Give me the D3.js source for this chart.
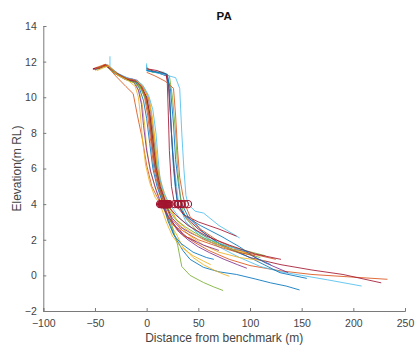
<!DOCTYPE html>
<html><head><meta charset="utf-8">
<script src="https://cdn.jsdelivr.net/npm/d3@7"></script>
<style>
body{margin:0;background:#fff;}
text{font-family:"Liberation Sans",Arial,Helvetica,sans-serif;}
</style></head>
<body><svg id="c" width="416" height="358"></svg>
<script>
const title = "PA";
const xLabel = "Distance from benchmark (m)";
const yLabel = "Elevation(m RL)";
const xTicks = [-100,-50,0,50,100,150,200,250];
const yTicks = [-2,0,2,4,6,8,10,12,14];
const lineColors = ["#0072BD","#D95319","#EDB120","#7E2F8E","#77AC30","#4DBEEE","#A2142F"];

// profiles: [distance (m), elevation (m RL)]
const p0 = [[-51,11.6],[-46,11.6],[-39,11.8],[-28,11.3],[-18,11.0],[-10,10.9],[-5,10.5],[0,10],[3,9],[5,7.5],[8,6],[12,5],[17,4],[22,3],[27,2.2],[35,1.4],[42,0.9],[55,0.45],[70,0.2],[87,0.05],[105,-0.2],[120,-0.42],[135,-0.6],[148,-0.82]];
const p1 = [[-52,11.55],[-45,11.7],[-40,11.85],[-30,11.4],[-20,11.05],[-12,10.9],[-6,10.6],[-2,10],[1,9],[4,7.5],[7,6],[11,5],[16,4],[22,3.2],[30,2.5],[45,1.9],[60,1.4],[80,0.9],[100,0.55],[130,0.25],[160,0.05],[200,-0.1],[233,-0.22]];
const p2 = [[-50,11.5],[-44,11.65],[-38,11.75],[-29,11.3],[-19,11.0],[-11,10.8],[-7,10.3],[-4,9.5],[-2,8.5],[0,7.2],[3,6],[8,5],[15,4],[21,3],[28,2.4],[35,1.6],[45,1.0],[55,0.6],[65,0.3],[75,0.05],[80,-0.05]];
const p3 = [[-49,11.6],[-43,11.7],[-38,11.8],[-27,11.25],[-17,11.05],[-9,10.95],[-4,10.6],[1,10.1],[4,9.2],[7,7.6],[10,6.2],[14,5],[19,4],[25,3],[32,2.4],[40,2.0],[50,1.6],[61,1.27],[75,0.9],[88,0.6],[97,0.4]];
const p4 = [[-50,11.6],[-45,11.7],[-40,11.8],[-31,11.4],[-22,11.1],[-16,10.9],[-10,10.85],[-4,10.4],[1,9.6],[5,8.3],[8,6.8],[11,5.3],[15,4.5],[20,4],[23,3.1],[30,1.7],[34,0.5],[42,0],[55,-0.4],[65,-0.65],[74,-0.85]];
const p5 = [[0,11.9],[0,11.5],[8,11.45],[17,11.4],[20,11.2],[22,10],[24,8],[27,6],[29,5],[31,4],[38,3],[50,2.3],[70,1.6],[90,1.0],[110,0.5],[130,0.2],[150,0],[175,-0.25],[208,-0.6]];
const p6 = [[0,11.6],[10,11.4],[19,11.2],[21,10.8],[23,9],[25,7],[28,5],[30,4],[37,3.3],[50,2.6],[70,1.8],[100,1.0],[130,0.6],[160,0.3],[190,0.05],[227,-0.42]];
const p7 = [[0,11.5],[12,11.35],[20,11.2],[23,10.5],[26,8.5],[28,6.5],[31,5],[34,4],[41,3.2],[55,2.4],[75,1.6],[100,1.0],[129,0.15],[155,-0.17]];
const p8 = [[-52,11.6],[-40,11.85],[-30,11.2],[-20,10.6],[-13,10.2],[-9,9.0],[-4,7.6],[0,6.2],[5,5.0],[11,4.3],[15,4],[20,3.3],[26,2.8],[32,2.6],[36,2.2],[42,2.1],[48,1.9]];
const p9 = [[-48,11.6],[-42,11.75],[-37,11.8],[-26,11.2],[-16,11.0],[-8,10.9],[-2,10.5],[3,9.8],[6,8.7],[9,7.2],[11,6],[15,5],[21,4],[30,3],[40,2.3],[55,1.7],[70,1.3],[90,1.0],[115,0.8]];
const p10 = [[-51,11.6],[-44,11.7],[-39,11.8],[-28,11.3],[-18,11.05],[-12,11.0],[-6,10.7],[-1,10.1],[2,9.2],[5,7.6],[8,6.2],[12,5],[18,4],[25,3.2],[33,2.7],[42,2.4],[60,1.9],[80,1.5],[94,1.36],[115,0.7],[137,0.15]];
const p11 = [[0,11.7],[5,11.4],[15,11.4],[22,11.2],[25,10],[28,8],[30,6],[32,4.8],[33,4],[38,3.2],[50,2.4],[70,1.7],[90,1.3],[110,1.0]];
const p12 = [[0,11.8],[0,11.5],[15,11.3],[28,11.1],[32,10.5],[34,8],[36,6],[38,4.5],[40,4],[47,3.6],[55,3.5],[70,2.8],[90,2.1]];
const p13 = [[0,11.6],[10,11.5],[19,11.3],[20,10.8],[21,9],[22,7],[24,5],[27,4],[36,3.4],[50,3.0],[70,2.6],[87,2.2]];
const p14 = [[-50,11.55],[-43,11.7],[-39,11.8],[-29,11.35],[-19,11.05],[-11,10.9],[-7,10.5],[-3,9.8],[0,8.8],[3,7.4],[6,6],[10,5],[16,4],[21,3],[26,2.3],[33,1.8],[45,1.3],[58,1.0],[65,0.9]];
const p15 = [[0,11.4],[8,11.2],[18,10.9],[26,10.5],[28,9],[30,7],[32,5.5],[35,4.5],[37,4],[42,3.3],[52,2.6],[70,1.9],[95,1.3],[125,0.9]];
const p16 = [[-49,11.6],[-44,11.7],[-38,11.8],[-27,11.3],[-17,11.0],[-9,10.9],[-3,10.5],[2,9.9],[5,8.9],[8,7.5],[10,6.1],[14,5],[20,4],[28,3.2],[38,2.6],[55,2.0],[75,1.6],[100,1.2]];
const p17 = [[-51,11.6],[-45,11.65],[-40,11.8],[-31,11.35],[-21,11.0],[-13,10.9],[-8,10.4],[-5,9.6],[-3,8.4],[0,7.0],[4,5.8],[9,4.8],[14,4],[21,3.3],[30,2.6],[40,2.1],[55,1.7],[70,1.4]];
const p18 = [[-50,11.6],[-44,11.7],[-39,11.75],[-30,11.3],[-20,11.0],[-12,10.8],[-6,10.5],[-1,9.9],[3,9.0],[6,7.6],[9,6.3],[13,5],[18,4],[27,3.2],[38,2.7],[55,2.1],[75,1.7],[95,1.4],[115,1.1]];
const p19 = [[-35.5,12.3],[-35.5,11.7],[-28,11.35],[-19,11.1],[-10,10.95],[-4,10.7],[2,10.1],[6,9.3],[9,8.0],[11,6.6],[13,5.4],[17,4.6],[22,4],[32,3.2],[45,2.6],[62,2.0],[80,1.6],[100,1.3]];
const p20 = [[-52,11.6],[-46,11.65],[-40,11.8],[-29,11.35],[-18,11.0],[-10,10.9],[-5,10.6],[0,10.0],[3,9.1],[6,7.6],[9,6.1],[13,5],[19,4],[28,3.4],[40,2.8],[58,2.2],[80,1.7],[105,1.2],[130,0.9]];
const p21 = [[0,11.5],[10,11.4],[20,11.3],[22,10.5],[24,8],[26,6],[28,4.8],[30,4],[38,3.3],[52,2.8],[72,2.2],[90,1.6],[105,1.0],[120,0.6]];
const p22 = [[-50,11.6],[-44,11.7],[-38,11.8],[-28,11.3],[-19,11.05],[-11,10.95],[-5,10.6],[-1,10.0],[2,9.0],[5,7.6],[8,6.2],[12,5],[17,4],[25,3.1],[35,2.5],[50,2.0],[70,1.6],[88,1.3],[105,1.1]];
const p23 = [[-48,11.5],[-42,11.65],[-37,11.75],[-27,11.2],[-17,10.9],[-11,10.6],[-8,10.0],[-6,9.0],[-4,7.6],[-1,6.2],[3,5.2],[8,4.4],[13,4],[19,3],[25,2.2],[33,1.6],[45,1.1],[55,0.8],[62,0.6]];
const profiles = [p0,p1,p2,p3,p4,p5,p6,p7,p8,p9,p10,p11,p12,p13,p14,p15,p16,p17,p18,p19,p20,p21,p22,p23];

// distance where each profile crosses 4 m RL
const contour4X = [17,16,15,19,20,31,30,34,15,21,18,33,40,27,16,37,20,14,18,22,19,30,17,13];
const contour4Y = 4;

const svg = d3.select("#c");
const m = {l:43.3, r:405, t:26, b:311};
const x = d3.scaleLinear().domain([-100,250]).range([m.l,m.r]);
const y = d3.scaleLinear().domain([-2,14]).range([m.b,m.t]);
const color = d3.scaleOrdinal().domain(d3.range(profiles.length)).range(lineColors);
const axisCol = "#7a7a7a", textCol = "#444";

// axes
const xa = svg.append("g").attr("transform",`translate(0,${m.b})`)
  .call(d3.axisBottom(x).tickValues(xTicks).tickSize(-3).tickPadding(9).tickFormat(d3.format("d")));
const ya = svg.append("g").attr("transform",`translate(${m.l},0)`)
  .call(d3.axisLeft(y).tickValues(yTicks).tickSize(-3).tickPadding(6.5).tickFormat(d3.format("d")));
[xa,ya].forEach(g=>{
  g.select(".domain").attr("stroke",axisCol).attr("stroke-width",1);
  g.selectAll(".tick line").attr("stroke",axisCol);
  g.selectAll(".tick text").attr("fill",textCol).attr("font-size",10.5)
   .attr("font-family","Liberation Sans, Arial, sans-serif");
});

// lines
const line = d3.line().x(d=>x(d[0])).y(d=>y(d[1]));
svg.append("g").selectAll("path").data(profiles).join("path")
  .attr("d",line).attr("fill","none")
  .attr("stroke",(d,i)=>color(i)).attr("stroke-width",0.85);

// markers at 4 m RL
svg.append("g").selectAll("circle").data(contour4X).join("circle")
  .attr("cx",d=>x(d)).attr("cy",y(contour4Y)).attr("r",3.6)
  .attr("fill","none").attr("stroke","#A2142F").attr("stroke-width",1.1);

// labels
svg.append("text").attr("x",(m.l+m.r)/2).attr("y",20).attr("text-anchor","middle")
  .attr("font-size",11.5).attr("font-weight","bold").attr("fill","#111").text(title);
svg.append("text").attr("x",(m.l+m.r)/2).attr("y",342).attr("text-anchor","middle")
  .attr("font-size",12).attr("fill",textCol).text(xLabel);
svg.append("text").attr("transform",`translate(21,${(m.t+m.b)/2}) rotate(-90)`)
  .attr("text-anchor","middle").attr("font-size",12).attr("fill",textCol).text(yLabel);
</script></body></html>
